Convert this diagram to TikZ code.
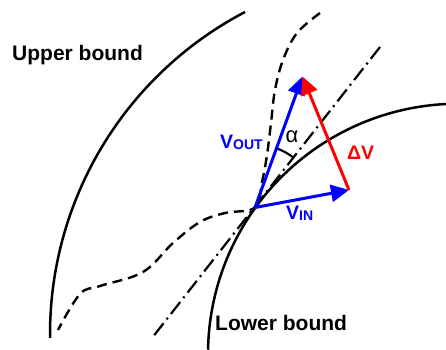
\documentclass[tikz,border=0pt]{standalone}
\usepackage{fontspec}
\setmainfont{Liberation Sans}
\usetikzlibrary{arrows.meta}
\begin{document}
\begin{tikzpicture}[x=1pt,y=-1pt,
  bound/.style={line width=2.5pt},
  pathline/.style={line width=2.4pt, dash pattern=on 10pt off 6pt},
  tangline/.style={line width=2.2pt, dash pattern=on 15pt off 5pt on 2pt off 5pt},
  vecb/.style={draw=blue, line width=3pt, -{Triangle[length=18pt,width=17pt]}},
  vecr/.style={draw=red, line width=3pt, -{Triangle[length=18pt,width=17pt]}},
  lbl/.style={inner sep=0pt, font=\bfseries\fontsize{21}{21}\selectfont},
  vlbl/.style={inner sep=0pt, font=\bfseries\fontsize{19.5}{19.5}\selectfont}
]
\useasboundingbox (0,0) rectangle (446,349);
\begin{scope}
\clip (0,0) rectangle (446,349);
% bounds
\draw[bound] plot[domain=179.4:242.4, samples=80] ({413.4+363.4*cos(\x)}, {334+363.4*sin(\x)});
\draw[bound] plot[domain=181:272, samples=90] ({458.4+250.4*cos(\x)}, {354.1+250.4*sin(\x)});
% actual path (dashed)
\draw[pathline] plot[smooth, tension=0.6] coordinates {(320,13) (297,33) (283,60) (275,90) (271,123) (267,155) (262,182) (255,207.5) (225,213) (200,222) (173,243) (143,272) (100,286) (80,294) (58,330)};
% tangent (dash-dot)
\coordinate (ta) at (380,47);
\coordinate (tb) at (152,338);
\draw[tangline] (ta) -- (tb);
\end{scope}
\coordinate (P) at (255,207.5);
\coordinate (Tout) at (302.5,76.5);
\coordinate (Tin) at (349,190);
% angle alpha
\draw[line width=2.2pt] (P) ++(-70:63) arc[start angle=-70, end angle=-52, radius=63];
\node[inner sep=0pt, font=\fontsize{22}{22}\selectfont] (alpha) at (292,137) {α};
% vectors
\draw[vecb] (P) -- (Tin);
\draw[vecb] (P) -- (Tout);
\draw[vecr] (Tin) -- (Tout);
% labels
\node[lbl, anchor=base west] (ub) at (12,60) {Upper bound};
\node[lbl, anchor=base west] (lb) at (215,330) {Lower bound};
\node[vlbl, text=blue, anchor=base west] (vout) at (220,148) {V\raisebox{-1.5pt}{\fontsize{14}{14}\selectfont OUT}};
\node[vlbl, text=blue, anchor=base west] (vin) at (286,219) {V\raisebox{-1.5pt}{\fontsize{14}{14}\selectfont IN}};
\node[vlbl, text=red, anchor=base west] (dv) at (347,159) {ΔV};
\end{tikzpicture}
\end{document}
